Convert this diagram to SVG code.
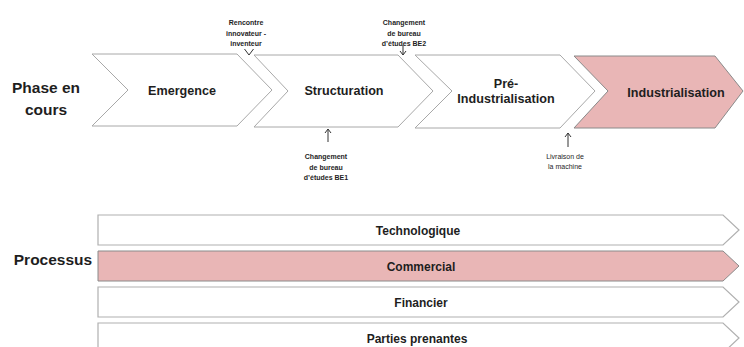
<svg xmlns="http://www.w3.org/2000/svg" width="744" height="347" viewBox="0 0 744 347">
<defs>
<style>
text{font-family:"Liberation Sans",Arial,sans-serif;font-weight:bold;fill:#1e1e1e;text-anchor:middle}
.big{font-size:15.5px}
.ph{font-size:12.6px}
.pr{font-size:12px}
.sm{font-size:7px}
.chev{fill:#fff;stroke:#a8a8a8;stroke-width:1}
.pink{fill:#e9b6b6;stroke:#8a8a8a;stroke-width:1}
.bar{fill:#fff;stroke:#b0b0b0;stroke-width:1.2}
.conn{fill:none;stroke:#333;stroke-width:1}
</style>
</defs>
<rect width="744" height="347" fill="#fff"/>
<g id="label-phase">
<text class="big" x="46" y="93">Phase en</text>
<text class="big" x="46" y="115">cours</text>
</g>
<g id="emergence">
<polygon class="chev" points="92,54 237,54 272,90 237,126 92,126 128,90"/>
<text class="ph" x="182" y="95">Emergence</text>
</g>
<g id="structuration">
<polygon class="chev" points="254,55 398,55 433,91 398,127 254,127 288,91"/>
<text class="ph" x="344" y="95">Structuration</text>
</g>
<g id="pre-industrialisation">
<polygon class="chev" points="415,55 560,55 595,91 560,128 415,128 452,91"/>
<text class="ph" x="506" y="88">Pré-</text>
<text class="ph" x="506" y="103">Industrialisation</text>
</g>
<g id="industrialisation">
<polygon class="pink" points="574,56 715,56 743,91 715,128 574,128 608,91"/>
<text class="ph" x="676" y="97">Industrialisation</text>
</g>
<g id="note-rencontre">
<text class="sm" x="246" y="25">Rencontre</text>
<text class="sm" x="246" y="36">innovateur -</text>
<text class="sm" x="246" y="46">inventeur</text>
</g>
<g id="note-be2">
<text class="sm" x="404" y="25">Changement</text>
<text class="sm" x="404" y="36">de bureau</text>
<text class="sm" x="404" y="46">d’études BE2</text>
</g>
<g id="note-be1">
<text class="sm" x="326" y="159">Changement</text>
<text class="sm" x="326" y="170">de bureau</text>
<text class="sm" x="326" y="180">d’études BE1</text>
</g>
<g id="note-livraison">
<text class="sm" x="565" y="159" style="font-weight:normal">Livraison de</text>
<text class="sm" x="565" y="169" style="font-weight:normal">la machine</text>
</g>
<g id="connectors">
<path class="conn" d="M244.5,49 L249,55 L253.5,49"/>
<path class="conn" d="M403,45 L403,55 M400,51 L403,55 L406,51"/>
<path class="conn" d="M328,142 L328,129 M325,133 L328,129 L331,133"/>
<path class="conn" d="M568,147 L568,133 M565,137 L568,133 L571,137"/>
</g>
<g id="label-processus">
<text class="big" x="53" y="265">Processus</text>
</g>
<g id="technologique">
<polygon class="bar" points="98,215 723,215 739,230 723,245 98,245"/>
<text class="pr" x="418" y="235">Technologique</text>
</g>
<g id="commercial">
<polygon class="pink" points="98,251 723,251 739,266 723,281 98,281"/>
<text class="pr" x="421" y="271">Commercial</text>
</g>
<g id="financier">
<polygon class="bar" points="98,287 723,287 739,302 723,317 98,317"/>
<text class="pr" x="421" y="307">Financier</text>
</g>
<g id="parties-prenantes">
<polygon class="bar" points="98,323 723,323 739,338 723,353 98,353"/>
<text class="pr" x="417" y="343">Parties prenantes</text>
</g>
</svg>
